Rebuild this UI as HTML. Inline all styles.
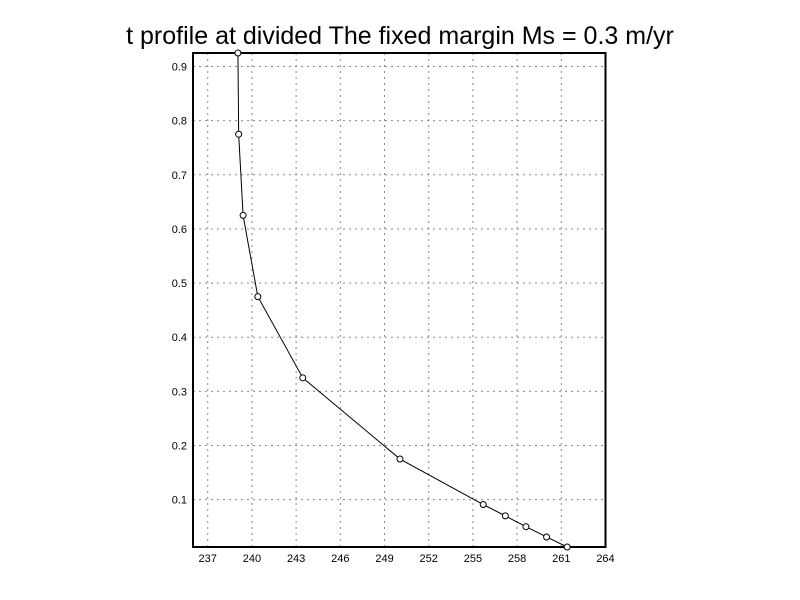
<!DOCTYPE html>
<html><head><meta charset="utf-8"><style>
body{margin:0;background:#fff}
svg{display:block;font-family:"Liberation Sans",sans-serif}
</style></head><body>
<svg id="chart" width="800" height="600">
<text x="400" y="44" text-anchor="middle" font-size="25">t profile  at divided The fixed margin Ms = 0.3 m/yr</text>
<g id="grid"></g><g id="ticks"></g>
<rect x="193" y="53" width="412.5" height="494" fill="none" stroke="#000" stroke-width="2"/>
<g id="series"></g>
</svg>
<script>
const xTicks=[237,240,243,246,249,252,255,258,261,264];
const yTicks=[0.1,0.2,0.3,0.4,0.5,0.6,0.7,0.8,0.9];
const tValues=[239.05,239.1,239.4,240.4,243.45,250.05,255.7,257.2,258.6,260.0,261.4];
const levels=[0.925,0.775,0.625,0.475,0.325,0.175,0.091,0.07,0.05,0.031,0.0125];
const X0=236,X1=264,Y0=0.0125,Y1=0.925,L=193,R=605.5,T=53,B=547;
const sx=v=>L+(v-X0)/(X1-X0)*(R-L);
const sy=v=>B-(v-Y0)/(Y1-Y0)*(B-T);
const NS="http://www.w3.org/2000/svg";
function mk(tag,attrs,parent){const e=document.createElementNS(NS,tag);for(const k in attrs)e.setAttribute(k,attrs[k]);document.getElementById(parent).appendChild(e);return e;}
xTicks.forEach(v=>{
 if(v<X1){const g=mk('line',{x1:sx(v),x2:sx(v),y1:T,y2:B,stroke:'#888','stroke-dasharray':'2,4'},'grid');
 
 }
 const t=mk('text',{x:sx(v),y:B+15,'text-anchor':'middle','font-size':11},'ticks');t.textContent=v;
 
 
});
yTicks.forEach(v=>{
 const g=mk('line',{x1:L,x2:R,y1:sy(v),y2:sy(v),stroke:'#888','stroke-dasharray':'2,4'},'grid');
 
 
 const t=mk('text',{x:L-6,y:sy(v)+4,'text-anchor':'end','font-size':11},'ticks');t.textContent=v.toFixed(1);
 
 
});
const p=mk('polyline',{points:tValues.map((v,i)=>sx(v)+','+sy(levels[i])).join(' '),fill:'none',stroke:'#000','stroke-width':1},'series');


tValues.forEach((v,i)=>{
 const c=mk('circle',{cx:sx(v),cy:sy(levels[i]),r:3,fill:'#fff',stroke:'#000'},'series');
 
 
});
</script>
</body></html>
